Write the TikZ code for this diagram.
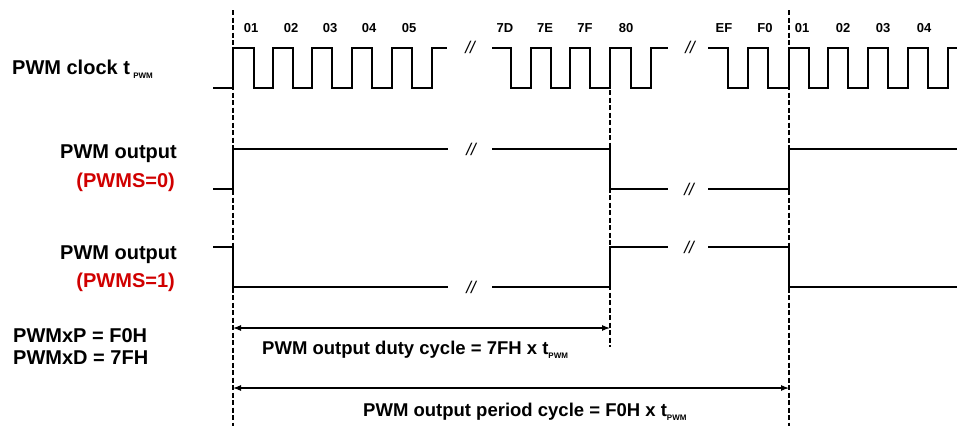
\documentclass[tikz,border=0pt]{standalone}
\usepackage{fontspec}
\setmainfont{Liberation Sans}
\usepackage{xcolor}
\usepackage{tikz}
\usetikzlibrary{arrows.meta,calc,positioning}
\definecolor{pwmsred}{HTML}{D00000}
\tikzset{
  wave/.style       = {black, line width=1.4pt, line join=miter},
  guide/.style      = {black, line width=1.2pt, dash pattern=on 5pt off 2.5pt},
  span arrow/.style = {{Latex[length=8pt,width=6pt]}-{Latex[length=8pt,width=6pt]},
                       black, line width=1.1pt},
  break mark/.style = {font=\fontsize{17}{17}\selectfont\itshape, inner sep=0pt},
  count label/.style = {font=\fontsize{13}{13}\selectfont\bfseries, inner sep=0pt},
  sig label/.style  = {font=\fontsize{20}{22}\selectfont\bfseries, anchor=base east, inner sep=0pt},
  reg label/.style  = {font=\fontsize{20}{22}\selectfont\bfseries, anchor=base west, inner sep=0pt},
  span label/.style = {font=\fontsize{18.5}{20}\selectfont\bfseries, anchor=base west, inner sep=0pt},
}
\newcommand{\tsub}{\raisebox{-4pt}{\fontsize{8}{8}\selectfont\bfseries PWM}}

\begin{document}
\begin{tikzpicture}[x=1pt, y=-1pt]
    \useasboundingbox (0,0) rectangle (957,426);

    % guide lines
    \coordinate (g1top) at (233,10);  \coordinate (g1bot) at (233,426);
    \coordinate (g2top) at (610,90);  \coordinate (g2bot) at (610,347);
    \coordinate (g3top) at (789,10);  \coordinate (g3bot) at (789,426);
    \draw[guide] (g1top) -- (g1bot);
    \draw[guide] (g2top) -- (g2bot);
    \draw[guide] (g3top) -- (g3bot);

    % clock
    \node[reg label] (clk) at (12,74) {PWM clock t\,\tsub};
    \draw[wave] (213,88) -| (233,48) -| (254,88) -| (273,48) -| (293,88) -| (312,48)
      -| (332,88) -| (352,48) -| (372,88) -| (392,48) -| (412,88) -| (432,48) -- (447,48);
    \draw[wave] (492,48) -| (511,88) -| (531,48) -| (551,88) -| (570,48) -| (590,88)
      -| (610,48) -| (631,88) -| (651,48) -- (668,48);
    \draw[wave] (708,48) -| (728,88) -| (748,48) -| (768,88) -| (789,48) -| (809,88)
      -| (828,48) -| (848,88) -| (868,48) -| (888,88) -| (908,48) -| (928,88)
      -| (948,48) -- (957,48);
    \node[break mark] (clkbrk1) at (470,47) {//};
    \node[break mark] (clkbrk2) at (690,47) {//};

    \node[count label] (c01) at (251,28) {01};
    \node[count label] (c02) at (291,28) {02};
    \node[count label] (c03) at (330,28) {03};
    \node[count label] (c04) at (369,28) {04};
    \node[count label] (c05) at (409,28) {05};
    \node[count label] (c7d) at (505,28) {7D};
    \node[count label] (c7e) at (545,28) {7E};
    \node[count label] (c7f) at (585,28) {7F};
    \node[count label] (c80) at (626,28) {80};
    \node[count label] (cef) at (724,28) {EF};
    \node[count label] (cf0) at (765,28) {F0};
    \node[count label] (d01) at (802,28) {01};
    \node[count label] (d02) at (843,28) {02};
    \node[count label] (d03) at (883,28) {03};
    \node[count label] (d04) at (924,28) {04};

    % output, PWMS=0
    \node[sig label] (out0) at (177,158) {PWM output};
    \node[sig label, pwmsred] (pwms0) at (175,187) {(PWMS=0)};
    \draw[wave] (213,189) -| (233,149) -- (448,149);
    \draw[wave] (492,149) -| (610,189) -- (668,189);
    \draw[wave] (708,189) -| (789,149) -- (957,149);
    \node[break mark] (brk0a) at (471,149) {//};
    \node[break mark] (brk0b) at (689,189) {//};

    % output, PWMS=1
    \node[sig label] (out1) at (177,259) {PWM output};
    \node[sig label, pwmsred] (pwms1) at (175,287) {(PWMS=1)};
    \draw[wave] (213,247) -| (233,287) -- (448,287);
    \draw[wave] (492,287) -| (610,247) -- (668,247);
    \draw[wave] (708,247) -| (789,287) -- (957,287);
    \node[break mark] (brk1a) at (471,287) {//};
    \node[break mark] (brk1b) at (689,247) {//};

    % registers and spans
    \node[reg label] (regp) at (13,342) {PWMxP = F0H};
    \node[reg label] (regd) at (13,364) {PWMxD = 7FH};

    \coordinate (dutyL) at (233,328);  \coordinate (dutyR) at (610,328);
    \coordinate (perL) at (233,388);   \coordinate (perR) at (789,388);
    \draw[span arrow] (dutyL) -- (dutyR);
    \draw[span arrow] (perL) -- (perR);
    \node[span label] (duty) at (262,354) {PWM output duty cycle = 7FH x t\tsub};
    \node[span label] (period) at (363,416) {PWM output period cycle = F0H x t\tsub};
  \end{tikzpicture}
\end{document}
